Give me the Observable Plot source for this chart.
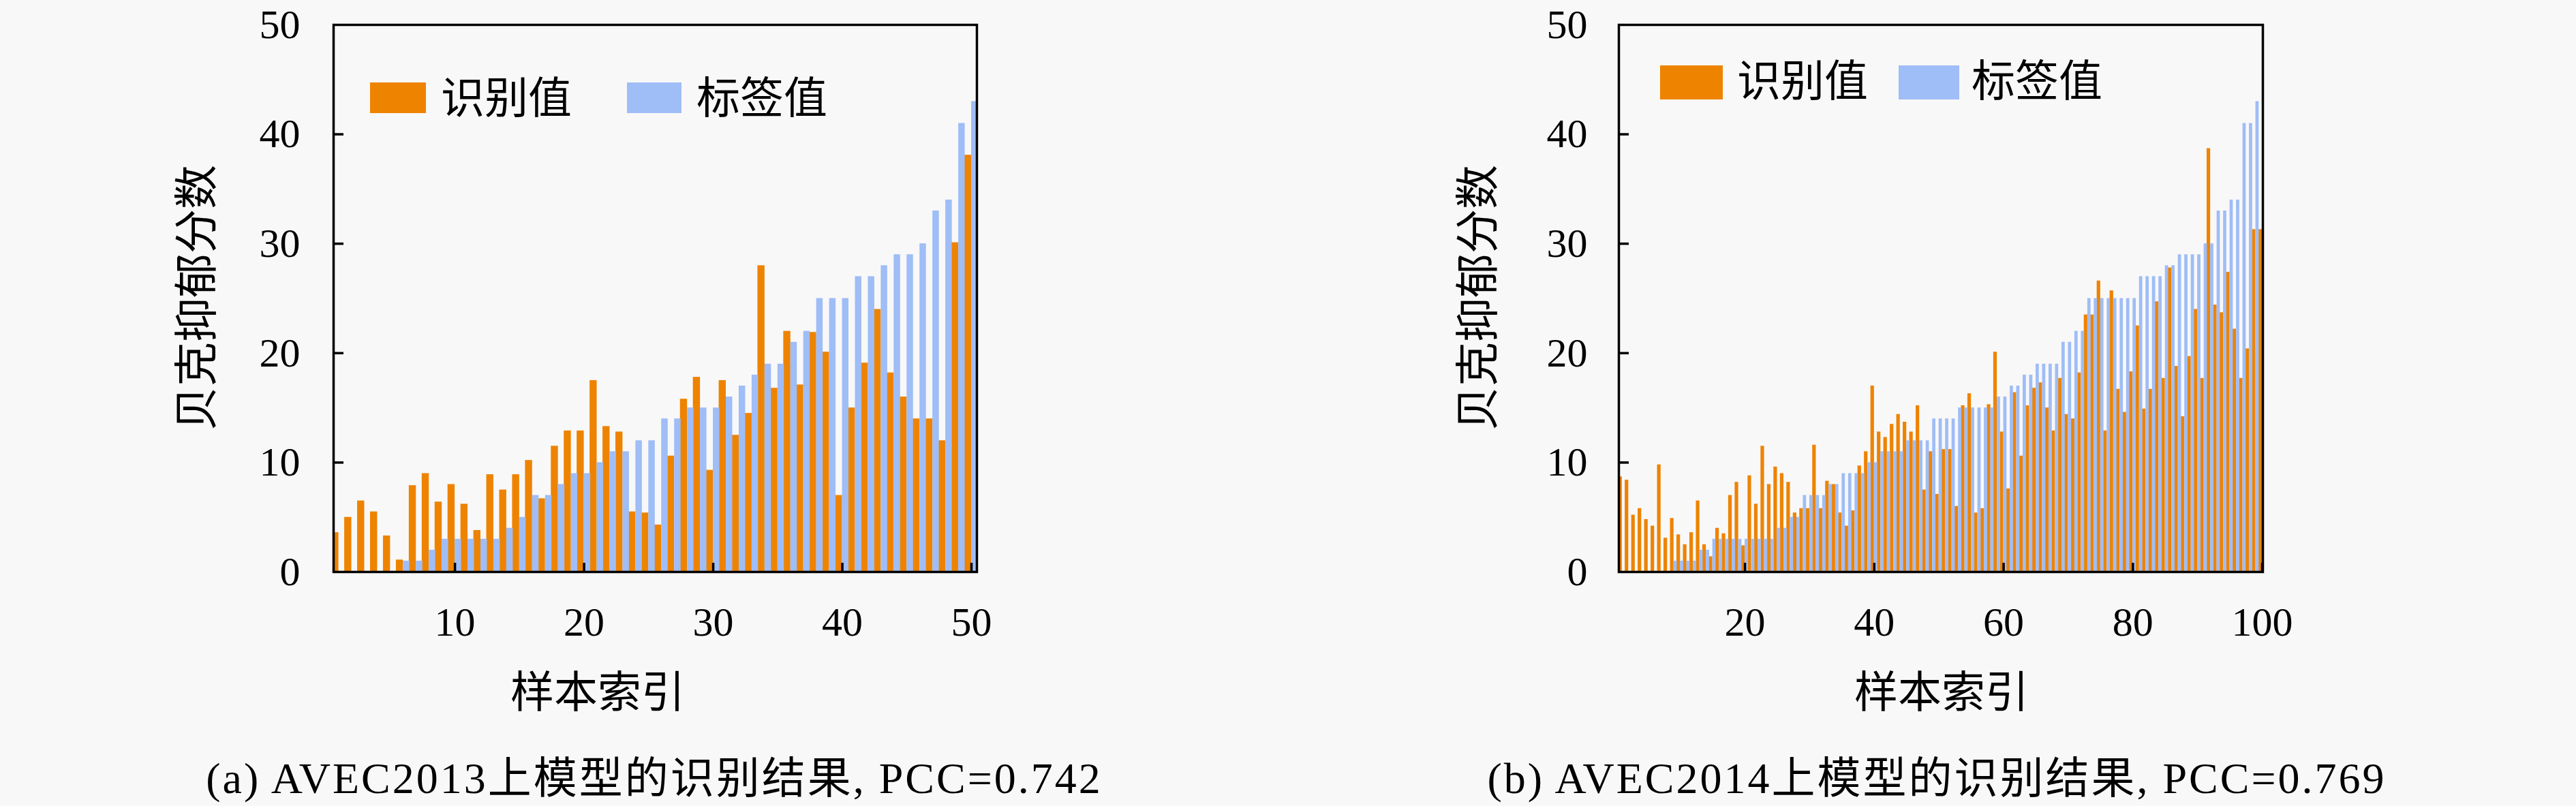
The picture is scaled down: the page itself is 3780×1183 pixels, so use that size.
<!DOCTYPE html>
<html><head><meta charset="utf-8">
<script src="https://cdn.jsdelivr.net/npm/d3@7"></script>
<script src="https://cdn.jsdelivr.net/npm/@observablehq/plot@0.6"></script>
<style>
body{margin:0;background:#f8f8f8;}
#root{position:relative;width:3780px;height:1183px;background:#f8f8f8;overflow:hidden;font-family:"Liberation Serif","Noto Sans CJK SC",serif;color:#000;}
.abs{position:absolute;white-space:nowrap;line-height:1;}
.chart{position:absolute;top:0;}
</style></head><body><div id="root"></div>
<script>
// ---- data ----
const predA = [3.6,5.0,6.5,5.5,3.3,1.1,7.9,9.0,6.4,8.0,6.2,3.8,8.9,7.5,8.9,10.2,6.7,11.5,12.9,12.9,
  17.5,13.3,12.8,5.5,5.4,4.3,10.6,15.8,17.8,9.3,17.5,12.5,14.5,28.0,16.8,22.0,17.1,21.9,20.1,7.0,
  15.0,19.1,24.0,18.2,16.0,14.0,14.0,12.0,30.1,38.1];
const labelA = [0,0,0,0,0,1,1,2,3,3,3,3,3,4,5,7,7,8,9,9,10,11,11,12,12,14,14,15,15,15,16,17,18,19,19,
  21,22,25,25,25,27,27,28,29,29,30,33,34,41,43];
const predB = [8.7,8.4,5.2,5.8,4.8,4.2,9.8,3.1,4.9,3.4,
  2.5,3.6,6.5,2.5,1.4,4.0,3.5,7.0,8.2,2.4,
  8.8,6.2,11.5,8.0,9.6,9.0,8.2,5.4,5.8,5.8,
  11.6,5.8,8.3,8.0,5.4,4.2,5.6,9.7,11.0,17.0,
  12.8,12.3,13.5,14.4,13.7,12.8,15.2,7.5,11.0,7.1,
  11.2,11.2,6.0,15.2,16.3,5.4,5.8,15.3,20.1,12.8,
  7.6,16.4,10.6,15.2,16.8,17.3,15.0,12.9,17.7,14.4,
  14.0,18.2,23.5,23.5,26.6,12.9,25.7,16.7,14.6,18.3,
  22.5,14.9,16.7,24.7,17.7,27.8,18.8,14.2,19.7,24.0,
  17.7,38.7,24.4,23.7,27.4,22.2,17.7,20.4,31.3,31.3];
const labelB = [0,0,0,0,0,0,0,0,1,1,1,1,2,2,3,3,3,3,3,3,3,3,3,3,4,4,5,5,7,7,7,7,8,8,9,9,9,9,10,10,
  11,11,11,11,12,12,12,12,14,14,14,14,15,15,15,15,15,15,16,16,17,17,18,18,19,19,19,19,21,21,22,22,
  25,25,25,25,25,25,25,25,27,27,27,27,28,28,29,29,29,29,30,30,33,33,34,34,41,41,43,43];
const ticksY = [0,10,20,30,40,50];
const ticksXA = [10,20,30,40,50];
const ticksXB = [20,40,60,80,100];
const seriesNames = ["识别值","标签值"];
const colors = ["#ee8300","#9fbdf6"];
const yTitle = "贝克抑郁分数";
const xTitle = "样本索引";
const captions = ["(a) AVEC2013上模型的识别结果, PCC=0.742","(b) AVEC2014上模型的识别结果, PCC=0.769"];

const root = document.getElementById("root");

function chart(pred, label, xDomain, xTicks, ml, mr, ypad) {
  const rows = pred.map((p,k)=>({i:k+1, pred:p, label:label[k]}));
  return Plot.plot({
    width:1890, height:1183, marginLeft:ml, marginRight:mr, marginTop:36, marginBottom:344,
    x:{domain:xDomain}, y:{domain:[0,50]},
    style:{background:"transparent", fontFamily:"'Liberation Serif', serif", color:"#000"},
    marks:[
      Plot.rectY(rows,{x1:d=>d.i-0.55, x2:d=>d.i, y1:0, y2:"pred", fill:colors[0], clip:true}),
      Plot.rectY(rows,{x1:d=>d.i, x2:d=>d.i+0.5, y1:0, y2:"label", fill:colors[1], clip:true}),
      Plot.axisY({ticks:ticksY, tickSize:0, tickPadding:ypad, fontSize:60, tickFormat:d=>String(d), label:null}),
      Plot.axisY({ticks:ticksY.slice(1,-1), tickSize:-15, strokeWidth:3.5, tickFormat:()=>"", label:null}),
      Plot.axisX({ticks:xTicks, tickSize:0, tickPadding:51, fontSize:60, tickFormat:d=>String(d), label:null}),
      Plot.axisX({ticks:xTicks, tickSize:-13, strokeWidth:3.5, tickFormat:()=>"", label:null}),
      Plot.frame({stroke:"#000", strokeWidth:3.5})
    ]
  });
}

const cA = chart(predA, labelA, [0.6,50.42], ticksXA, 489, 457, 49);
cA.classList.add("chart"); cA.style.left = "0px"; root.appendChild(cA);
const cB = chart(predB, labelB, [0.49,100.1], ticksXB, 485, 460, 46);
cB.classList.add("chart"); cB.style.left = "1890px"; root.appendChild(cB);

function addText(txt, x, y, size, extra) {
  const d = document.createElement("div");
  d.className = "abs"; d.textContent = txt;
  d.style.left = x + "px"; d.style.top = y + "px"; d.style.fontSize = size + "px";
  d.style.transform = extra || "translate(-50%,-50%)";
  root.appendChild(d); return d;
}
function addBox(x, y, w, h, c) {
  const d = document.createElement("div");
  d.style.position = "absolute"; d.style.left = x+"px"; d.style.top = y+"px";
  d.style.width = w+"px"; d.style.height = h+"px"; d.style.background = c;
  root.appendChild(d);
}
// legends
addBox(543,121,82,45,colors[0]); addText(seriesNames[0],647,145,64,"translate(0,-50%)");
addBox(920,121,80,45,colors[1]); addText(seriesNames[1],1022,145,64,"translate(0,-50%)");
addBox(2436,96,92,50,colors[0]); addText(seriesNames[0],2549,120,64,"translate(0,-50%)");
addBox(2786,96,89,50,colors[1]); addText(seriesNames[1],2893,120,64,"translate(0,-50%)");
// axis titles
addText(yTitle,289,437,65,"translate(-50%,-50%) rotate(-90deg)");
addText(yTitle,2169,437,65,"translate(-50%,-50%) rotate(-90deg)");
addText(xTitle,877,1017,64);
addText(xTitle,2849,1017,64);
// captions
const capA = addText(captions[0],960,1143,64); capA.style.letterSpacing = "3px";
const capB = addText(captions[1],2842,1143,64); capB.style.letterSpacing = "3px";
</script></body></html>
